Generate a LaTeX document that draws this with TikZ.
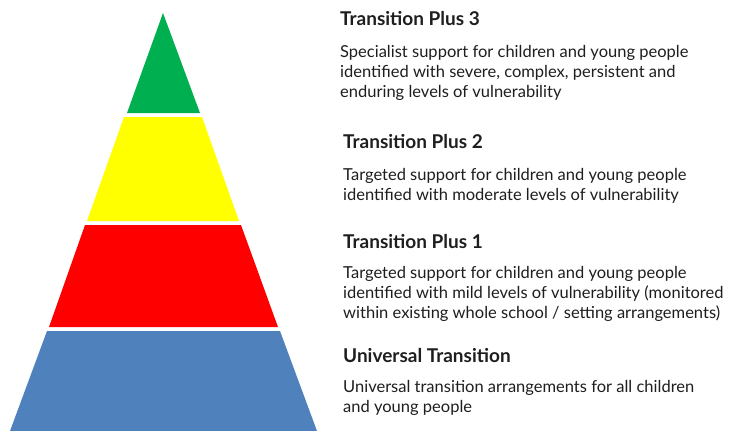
\documentclass[tikz,border=0pt]{standalone}
\usepackage{fontspec}
\setmainfont{Lato}
\definecolor{tiergreen}{RGB}{0,176,80}
\definecolor{tieryellow}{RGB}{255,255,0}
\definecolor{tierred}{RGB}{255,0,0}
\definecolor{tierblue}{RGB}{79,129,189}
\definecolor{inktext}{RGB}{30,30,30}
\begin{document}
\begin{tikzpicture}[x=1pt,y=-1pt,
    heading/.style={anchor=base west, inner sep=0pt, text=inktext,
        font=\fontsize{19}{20}\selectfont\bfseries},
    blurb/.style={anchor=base west, inner sep=0pt, align=left, text=inktext,
        font=\fontsize{16.5}{20}\selectfont}]

    \useasboundingbox (0,0) rectangle (750,431);

    % Transition Plus 3 tier (top)
    \fill[tiergreen] (163,13) -- (200,113) -- (127,113) -- cycle;

    % Transition Plus 2 tier
    \fill[tieryellow] (124,117) -- (202,117) -- (239,221) -- (87,221) -- cycle;

    % Transition Plus 1 tier
    \fill[tierred] (85,225) -- (241,225) -- (278,327) -- (49,327) -- cycle;

    % Universal Transition tier (base)
    \fill[tierblue] (47,331) -- (280,331) -- (317,431) -- (10,431) -- cycle;

    % Labels for Transition Plus 3 (blurb sits on its last line)
    \node[heading] (tpthree) at (340,25) {Transition Plus 3};
    \node[blurb] (tpthreetext) at (340,97) {Specialist support for children and young people\\
        identified with severe, complex, persistent and\\
        enduring levels of vulnerability};

    % Labels for Transition Plus 2
    \node[heading] (tptwo) at (343,148) {Transition Plus 2};
    \node[blurb] (tptwotext) at (343,200) {Targeted support for children and young people\\
        identified with moderate levels of vulnerability};

    % Labels for Transition Plus 1
    \node[heading] (tpone) at (343,248) {Transition Plus 1};
    \node[blurb] (tponetext) at (343,318) {Targeted support for children and young people\\
        identified with mild levels of vulnerability (monitored\\
        within existing whole school / setting arrangements)};

    % Labels for Universal Transition
    \node[heading] (universal) at (343,362) {Universal Transition};
    \node[blurb] (universaltext) at (343,412) {Universal transition arrangements for all children\\
        and young people};

\end{tikzpicture}
\end{document}
